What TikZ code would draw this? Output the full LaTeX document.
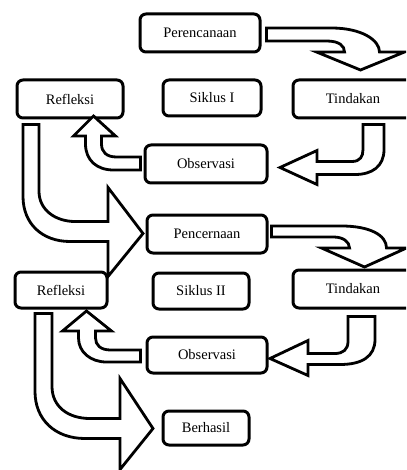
\documentclass[tikz,border=0pt]{standalone}
\usepackage{fontspec}
\setmainfont{Liberation Serif}
\usetikzlibrary{positioning}

\begin{document}
\begin{tikzpicture}[x=1pt, y=-1pt,
    box/.style={draw, line width=3pt, rounded corners=6pt, fill=white, inner sep=0pt, font=\fontsize{14.5}{16}\selectfont},
    barrow/.style={draw, line width=2.8pt, fill=white, line join=miter}]

    \clip (0,0) rectangle (406,470);

    % Siklus I boxes
    \node[box, minimum width=120pt, minimum height=38pt] (per) at (200,33) {Perencanaan};
    \node[box, minimum width=106pt, minimum height=38pt] (ref1) at (70,99) {Refleksi};
    \node[box, minimum width=98pt, minimum height=36pt] (sik1) at (212,98) {Siklus I};
    \node[box, minimum width=120pt, minimum height=38pt] (tin1) at (353,99) {Tindakan};
    \node[box, minimum width=122pt, minimum height=38pt] (obs1) at (206,164) {Observasi};

    % Siklus II boxes
    \node[box, minimum width=120pt, minimum height=38pt] (pen) at (207,234) {Pencernaan};
    \node[box, minimum width=92pt, minimum height=36pt] (ref2) at (61,290) {Refleksi};
    \node[box, minimum width=96pt, minimum height=36pt] (sik2) at (201,291) {Siklus II};
    \node[box, minimum width=120pt, minimum height=38pt] (tin2) at (353,289) {Tindakan};
    \node[box, minimum width=120pt, minimum height=36pt] (obs2) at (207,355) {Observasi};
    \node[box, minimum width=86pt, minimum height=34pt] (ber) at (206,428) {Berhasil};

    % block arrow per -> tin1
    \begin{scope}[shift={(per.east)}]
        \draw[barrow] (5,-5) -- (70,-5) .. controls (100,-5) and (118,7) .. (118,19)
            -- (143,19) -- (99,37) -- (55,19) -- (83,19)
            .. controls (83,13) and (78,8) .. (65,8) -- (5,8) -- cycle;
    \end{scope}

    % block arrow tin1 -> obs1
    \begin{scope}[shift={(tin1.south)}]
        \draw[barrow] (10,5) -- (31,5) -- (31,30) .. controls (31,47) and (19,55) .. (2,55)
            -- (-36,55) -- (-36,65) -- (-73,48) -- (-36,31) -- (-36,42) -- (-1,42)
            .. controls (7,42) and (10,37) .. (10,30) -- cycle;
    \end{scope}

    % block arrow obs1 -> ref1
    \begin{scope}[shift={(obs1.west)}]
        \draw[barrow] (-3,-7) -- (-27,-7) .. controls (-37,-7) and (-42,-12) .. (-42,-20)
            -- (-42,-28) -- (-28,-28) -- (-50,-48) -- (-70,-28) -- (-58,-28) -- (-58,-20)
            .. controls (-58,-4) and (-47,6) .. (-30,6) -- (-3,6) -- cycle;
    \end{scope}

    % block arrow ref1 -> pen
    \begin{scope}[shift={(ref1.south)}]
        \draw[barrow] (-47,5) -- (-31,5) -- (-31,72) .. controls (-31,90) and (-15,102) .. (5,102)
            -- (38,102) -- (38,68) -- (73,114) -- (38,157) -- (38,122) -- (0,122)
            .. controls (-28,122) and (-47,104) .. (-47,77) -- cycle;
    \end{scope}

    % block arrow pen -> tin2
    \begin{scope}[shift={(pen.east)}]
        \draw[barrow] (3,-8) -- (73,-8) .. controls (101,-8) and (118,1) .. (118,14)
            -- (138,14) -- (96,33) -- (53,14) -- (81,14)
            .. controls (81,8) and (75,3) .. (65,3) -- (3,3) -- cycle;
    \end{scope}

    % block arrow tin2 -> obs2
    \begin{scope}[shift={(tin2.south)}]
        \draw[barrow] (-5,7) -- (22,7) -- (22,30) .. controls (22,47) and (9,55) .. (-13,55)
            -- (-45,55) -- (-45,66) -- (-83,49) -- (-45,31) -- (-45,44) -- (-18,44)
            .. controls (-10,44) and (-5,40) .. (-5,32) -- cycle;
    \end{scope}

    % block arrow obs2 -> ref2
    \begin{scope}[shift={(obs2.west)}]
        \draw[barrow] (-5,-5) -- (-35,-5) .. controls (-45,-5) and (-50,-10) .. (-50,-17)
            -- (-50,-24) -- (-34,-24) -- (-59,-44) -- (-83,-24) -- (-67,-24) -- (-67,-17)
            .. controls (-67,-3) and (-55,7) .. (-39,7) -- (-5,7) -- cycle;
    \end{scope}

    % block arrow ref2 -> ber
    \begin{scope}[shift={(ref2.south)}]
        \draw[barrow] (-26,4) -- (-9,4) -- (-9,77) .. controls (-9,97) and (7,109) .. (29,109)
            -- (59,109) -- (59,69) -- (92,119) -- (59,160) -- (59,129) -- (24,129)
            .. controls (-6,129) and (-26,110) .. (-26,82) -- cycle;
    \end{scope}

\end{tikzpicture}
\end{document}
